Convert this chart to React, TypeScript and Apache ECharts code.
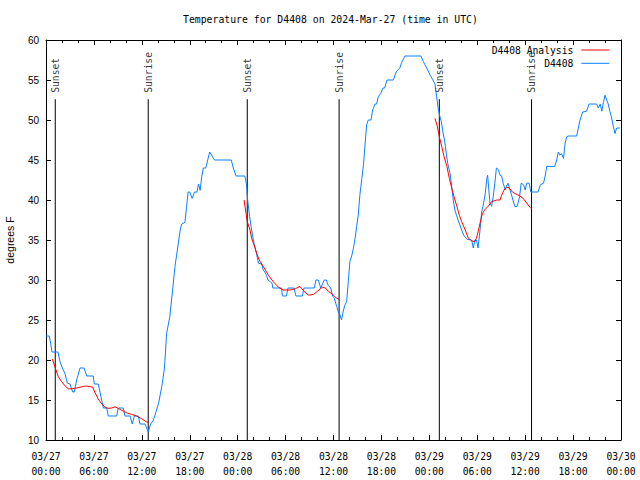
import React, { useEffect, useRef } from "react";
import * as echarts from "echarts";

const titleText = "Temperature for D4408 on 2024-Mar-27 (time in UTC)";
const month = "03";
const firstDay = 27;
const hoursMin = 0;
const hoursMax = 72;
const tempMin = 10;
const tempMax = 60;

// observed temperatures [hours since 03/27 00:00 UTC, °F]
const observed: [number, number][] = [
  [0, 23], [0.4, 23], [0.6, 22], [0.75, 21], [1.5, 21], [1.75, 19.8], [2.05, 19], [2.38, 18.3], [2.67, 17.1], [3.0, 17],
  [3.34, 16], [3.54, 16], [3.84, 17.5], [4.26, 19], [4.76, 19], [5.1, 18], [5.92, 18], [6.05, 17], [6.55, 17], [6.76, 16],
  [6.97, 15], [7.18, 14], [7.6, 14], [7.8, 13], [8.85, 13], [9.05, 14], [9.68, 14], [9.89, 13], [10.52, 13], [10.8, 12],
  [11.06, 13], [11.56, 13], [11.77, 12], [12.4, 12], [12.8, 11], [13.1, 12], [13.4, 12.4], [13.65, 13.1], [14.1, 14.6],
  [14.5, 16.7], [14.8, 18.75], [14.9, 20], [15.1, 23.3], [15.5, 25.4], [15.9, 29.2], [16.15, 31.7], [16.45, 33.75],
  [16.8, 36.25], [17.0, 37], [17.4, 37.2], [17.6, 39.2], [17.8, 41], [18.0, 41], [18.3, 40.2], [18.6, 41], [18.9, 41],
  [19.1, 42], [19.3, 41.2], [19.5, 42.9], [19.7, 44], [20.0, 44], [20.3, 45.2], [20.5, 46], [20.8, 45.5], [21.1, 45],
  [23.2, 45], [23.45, 44], [23.8, 43], [24.9, 43], [25.1, 42], [25.25, 40], [25.5, 37.9], [25.75, 36.25], [26.0, 34.8],
  [26.2, 34], [26.4, 33.1], [26.6, 32.1], [27.0, 32], [27.2, 31.25], [27.4, 31], [27.6, 30.6], [27.8, 30], [28.3, 29.6],
  [28.4, 29], [29.5, 29], [29.6, 28], [30.1, 28], [30.3, 29], [31.05, 29], [31.3, 28], [32.1, 28], [32.3, 29], [33.6, 29],
  [33.8, 30], [34.1, 30], [34.4, 29], [34.85, 30], [35.1, 30], [35.35, 29.3], [35.65, 29], [35.9, 28], [36.1, 27.7],
  [36.4, 26.7], [36.6, 26], [36.8, 25.7], [37.0, 25], [37.2, 26], [37.4, 26.8], [37.65, 27.3], [37.85, 29.8], [38.05, 32.3],
  [38.3, 33.1], [38.5, 34], [38.7, 35.2], [38.9, 36.7], [39.1, 38.1], [39.3, 40.6], [39.55, 42.7], [39.75, 44.4],
  [39.95, 46.9], [40.15, 49.4], [40.35, 50], [40.7, 50], [40.9, 51.25], [41.2, 52], [41.4, 52], [41.6, 52.9], [41.9, 53.3],
  [42.2, 54], [42.4, 54], [42.7, 55], [43.5, 55], [43.7, 55.6], [43.9, 56.1], [44.3, 56.5], [44.5, 57.1], [44.7, 57.5],
  [44.95, 58], [46.95, 58], [47.25, 57.3], [47.45, 56.9], [47.8, 56.25], [48.1, 55.6], [48.4, 55.1], [48.7, 54.5],
  [48.9, 53], [49.1, 51.5], [49.3, 50.5], [49.5, 49.8], [49.7, 48.5], [49.9, 47.5], [50.1, 46], [50.3, 44.6], [50.6, 43.3],
  [50.8, 41.7], [51.0, 40], [51.2, 38.75], [51.4, 38.1], [51.6, 37.5], [52.05, 36.25], [52.3, 35.6], [52.7, 35.1],
  [53.3, 35], [53.5, 34], [53.7, 35], [53.9, 35], [54.1, 34], [54.35, 36.25], [54.55, 38.5], [54.8, 39.6], [55.0, 40.8],
  [55.2, 42.7], [55.3, 43.1], [55.45, 41.25], [55.6, 39.6], [55.8, 39.2], [56.0, 40.4], [56.2, 42.1], [56.4, 44],
  [56.65, 43.8], [56.85, 43.1], [57.05, 43], [57.25, 42.1], [57.5, 41.25], [57.65, 41.7], [57.85, 42.1], [58.1, 41.25],
  [58.3, 40.6], [58.7, 39.2], [59.0, 39.2], [59.3, 40.4], [59.5, 42.1], [59.8, 41.9], [60.0, 41.25], [60.2, 42.1],
  [60.5, 42.1], [60.7, 41], [61.6, 41], [61.9, 41.9], [62.3, 42.1], [62.5, 43], [62.7, 44.2], [63.7, 44.2], [63.95, 45],
  [64.15, 46], [64.35, 45.6], [64.55, 45.8], [64.8, 45.2], [65.0, 47.1], [65.2, 47.9], [65.4, 48], [66.45, 48], [66.65, 49],
  [66.87, 50], [67.2, 51], [67.7, 51.1], [68.0, 52], [68.95, 52], [69.15, 51.5], [69.4, 52], [69.6, 51.1], [69.8, 52.2],
  [70.0, 53.1], [70.2, 52.5], [70.4, 52], [70.6, 51.1], [70.8, 50.4], [71.0, 49.4], [71.25, 48.3], [71.45, 49], [71.85, 49],
];

// analysis curves, one per night
const analysisNight1: [number, number][] = [
  [0.8, 20.1], [1.1, 19.2], [1.34, 18.5], [1.55, 17.9], [1.95, 17.3], [2.4, 16.75], [2.8, 16.4], [3.2, 16.4], [3.85, 16.5],
  [4.7, 16.7], [5.1, 16.75], [5.85, 16.6], [6.1, 16.0], [6.55, 15.1], [7.0, 14.5], [7.4, 14.1], [7.8, 13.95], [8.2, 14.0],
  [8.65, 14.15], [9.05, 13.95], [9.5, 13.7], [10.1, 13.4], [10.7, 13.2], [11.35, 13.0], [12.0, 12.65], [12.5, 12.3], [12.8, 12.2],
];
const analysisNight2: [number, number][] = [
  [24.8, 40], [25.05, 38.3], [25.2, 37.3], [25.55, 36.25], [25.75, 35.2], [26.05, 34.4], [26.4, 33.3], [26.7, 32.5],
  [27.2, 31.7], [27.85, 30.6], [28.45, 29.8], [29.1, 29.1], [29.7, 28.75], [30.55, 28.75], [31.2, 28.9], [31.8, 29.2],
  [32.3, 28.6], [32.85, 28.1], [33.5, 28.2], [34.0, 28.6], [34.6, 29.1], [35.0, 29.0], [35.35, 28.6], [36.0, 28.1],
  [36.4, 27.7], [36.7, 27.6],
];
const analysisNight3: [number, number][] = [
  [48.7, 50.2], [49.0, 49.2], [49.25, 47.9], [49.55, 46.7], [49.85, 45.4], [50.2, 44.2], [50.5, 42.7], [50.8, 41.5],
  [51.1, 40.4], [51.45, 39.2], [51.75, 38.1], [52.05, 37.3], [52.5, 36.25], [52.9, 35.2], [53.3, 34.9], [53.7, 34.8],
  [53.9, 35.2], [54.1, 36], [54.35, 37.1], [54.65, 38.3], [54.95, 38.8], [55.4, 39.25], [55.8, 39.8], [56.45, 40],
  [56.85, 40], [57.05, 40.6], [57.35, 41.25], [57.7, 41.6], [58.0, 41.5], [58.4, 41], [58.85, 40.75], [59.35, 40.5],
  [59.75, 40.2], [60.2, 39.6], [60.6, 39.1], [60.8, 38.9],
];

const sunEventHours = [1.16, 12.8, 25.2, 36.7, 49.25, 60.8];
const sunEventLabels = ["Sunset", "Sunrise", "Sunset", "Sunrise", "Sunset", "Sunrise"];
const sunLineTop = 52.6;
const sunLabelBase = 53.4;

const seriesNames = ["D4408 Analysis", "D4408"];

const MONO = "DejaVu Sans Mono";
const SANS = "Liberation Sans";
const LEGEND_LINE = "path://M0,0 L0,0 M0,10 L0,10 M0,4.5 L28,4.5 L28,5.5 L0,5.5 Z";

export default function App() {
  const ref = useRef<HTMLDivElement>(null);
  useEffect(() => {
    if (!ref.current) return;
    const chart = echarts.init(ref.current, undefined, { renderer: "svg" });
    const fmtX = (v: number) => {
      const day = firstDay + Math.floor(v / 24);
      const hh = v % 24;
      return `${month}/${day}\n${String(hh).padStart(2, "0")}:00`;
    };
    const baseX = {
      type: "value" as const,
      min: hoursMin,
      max: hoursMax,
      interval: 6,
      axisLine: { show: true, onZero: false, lineStyle: { color: "#000", width: 1 } },
      axisTick: { show: true, inside: true, length: 5, lineStyle: { color: "#000" } },
      minorTick: { show: true, splitNumber: 3, length: 3, lineStyle: { color: "#000" } },
      splitLine: { show: false },
    };
    const baseY = {
      type: "value" as const,
      min: tempMin,
      max: tempMax,
      interval: 5,
      axisLine: { show: true, onZero: false, lineStyle: { color: "#000", width: 1 } },
      axisTick: { show: true, inside: true, length: 5, lineStyle: { color: "#000" } },
      splitLine: { show: false },
    };
    const redLine = (data: [number, number][]) => ({
      name: seriesNames[0],
      type: "line" as const,
      data,
      symbol: "none",
      xAxisIndex: 0,
      yAxisIndex: 0,
      lineStyle: { color: "#ff0000", width: 1 },
      itemStyle: { color: "#ff0000" },
      z: 4,
    });
    const sunLines = sunEventHours.map((h, i) => ({
      name: `sun-line-${i}`,
      type: "line" as const,
      data: [
        [h, tempMin],
        [h, sunLineTop],
      ],
      symbol: "none",
      silent: true,
      xAxisIndex: 0,
      yAxisIndex: 0,
      lineStyle: { color: "#000", width: 1 },
      z: 2,
    }));
    chart.setOption({
      animation: false,
      title: {
        text: titleText,
        left: 183,
        top: 14,
        padding: 0,
        textStyle: { fontFamily: MONO, fontSize: 9.8, fontWeight: "normal", color: "#000" },
      },
      legend: {
        data: seriesNames.map((n) => ({ name: n, icon: LEGEND_LINE })),
        orient: "vertical",
        align: "right",
        right: 30.7,
        top: 45,
        padding: 0,
        itemWidth: 28,
        itemHeight: 10,
        itemGap: 3.3,
        textStyle: { fontFamily: MONO, fontSize: 9.7, color: "#000", padding: [0, 3, 0, 0] },
      },
      grid: { left: 46, right: 19, top: 40, bottom: 40, containLabel: false, outerBoundsMode: "none" },
      xAxis: [
        {
          ...baseX,
          position: "bottom",
          axisLabel: {
            show: true,
            formatter: fmtX,
            fontFamily: MONO,
            fontSize: 9.7,
            color: "#000",
            lineHeight: 15,
            margin: 9,
          },
        },
        { ...baseX, position: "top", axisLabel: { show: false } },
      ],
      yAxis: [
        {
          ...baseY,
          position: "left",
          name: "degrees F",
          nameLocation: "middle",
          nameGap: 31,
          nameTextStyle: { fontFamily: SANS, fontSize: 10.5, color: "#000" },
          axisLabel: { show: true, fontFamily: SANS, fontSize: 10, color: "#000", margin: 7 },
        },
        { ...baseY, position: "right", axisLabel: { show: false } },
      ],
      series: [
        ...sunLines,
        redLine(analysisNight1),
        redLine(analysisNight2),
        redLine(analysisNight3),
        {
          name: seriesNames[1],
          type: "line",
          data: observed,
          symbol: "none",
          xAxisIndex: 0,
          yAxisIndex: 0,
          lineStyle: { color: "#0a80ff", width: 1 },
          itemStyle: { color: "#0a80ff" },
          z: 3,
        },
        {
          name: "sun-labels",
          type: "scatter",
          symbolSize: 0,
          xAxisIndex: 0,
          yAxisIndex: 0,
          silent: true,
          data: sunEventHours.map((h) => [h, sunLabelBase]),
          label: {
            show: true,
            position: "inside",
            rotate: 90,
            align: "left",
            verticalAlign: "middle",
            fontFamily: MONO,
            fontSize: 9.7,
            color: "#000",
            formatter: (p: any) => sunEventLabels[p.dataIndex],
          },
        },
      ],
    });
    return () => chart.dispose();
  }, []);
  return <div ref={ref} style={{ width: 640, height: 480, position: "absolute", left: 0, top: 0 }} />;
}
